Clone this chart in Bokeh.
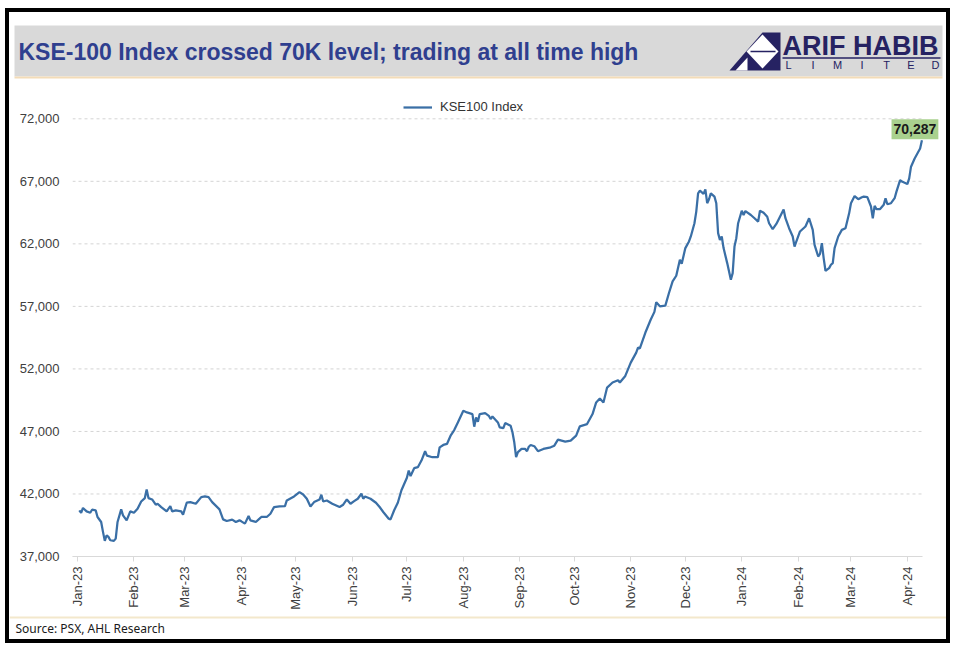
import numpy as np
import pandas as pd
from bokeh.plotting import figure
from bokeh.layouts import column
from bokeh.models import (Range1d, FixedTicker, MonthsTicker, DatetimeTickFormatter,
                          NumeralTickFormatter, Legend, LegendItem, Label, ColumnDataSource)
from bokeh.core.properties import value
from bokeh.embed import file_html
from bokeh.resources import INLINE

# ---------------- data ----------------
title_text = "KSE-100 Index crossed 70K level; trading at all time high"
series_name = "KSE100 Index"
source_text = "Source: PSX, AHL Research"
logo_name = "ARIF HABIB"
logo_sub = list("LIMITED")
y_ticks = [37000, 42000, 47000, 52000, 57000, 62000, 67000, 72000]

dates = [
    "2023-01-02", "2023-01-03", "2023-01-04", "2023-01-06", "2023-01-08", "2023-01-09", "2023-01-11",
    "2023-01-12", "2023-01-14", "2023-01-15", "2023-01-16", "2023-01-17", "2023-01-18", "2023-01-19",
    "2023-01-21", "2023-01-22", "2023-01-23", "2023-01-25", "2023-01-26", "2023-01-28", "2023-01-30",
    "2023-02-01", "2023-02-03", "2023-02-05", "2023-02-07", "2023-02-08", "2023-02-09", "2023-02-11",
    "2023-02-13", "2023-02-14", "2023-02-16", "2023-02-19", "2023-02-21", "2023-02-22", "2023-02-24",
    "2023-02-27", "2023-02-28", "2023-03-02", "2023-03-04", "2023-03-07", "2023-03-10", "2023-03-12",
    "2023-03-14", "2023-03-16", "2023-03-20", "2023-03-22", "2023-03-24", "2023-03-27", "2023-03-29",
    "2023-03-31", "2023-04-01", "2023-04-03", "2023-04-05", "2023-04-06", "2023-04-09", "2023-04-11",
    "2023-04-12", "2023-04-15", "2023-04-17", "2023-04-19", "2023-04-22", "2023-04-25", "2023-04-26",
    "2023-04-30", "2023-05-03", "2023-05-05", "2023-05-07", "2023-05-09", "2023-05-11", "2023-05-14",
    "2023-05-15", "2023-05-16", "2023-05-18", "2023-05-21", "2023-05-25", "2023-05-27", "2023-05-29",
    "2023-05-31", "2023-06-02", "2023-06-04", "2023-06-06", "2023-06-07", "2023-06-08", "2023-06-11",
    "2023-06-14", "2023-06-16", "2023-06-18", "2023-06-21", "2023-06-22", "2023-06-24", "2023-06-26",
    "2023-06-28", "2023-07-01", "2023-07-02", "2023-07-03", "2023-07-05", "2023-07-07", "2023-07-09",
    "2023-07-11", "2023-07-12", "2023-07-15", "2023-07-18", "2023-07-19", "2023-07-21", "2023-07-23",
    "2023-07-25", "2023-07-27", "2023-07-29", "2023-08-01", "2023-08-03", "2023-08-06", "2023-08-07",
    "2023-08-08", "2023-08-09", "2023-08-10", "2023-08-13", "2023-08-15", "2023-08-16", "2023-08-17",
    "2023-08-20", "2023-08-21", "2023-08-23", "2023-08-24", "2023-08-27", "2023-08-28", "2023-08-29",
    "2023-08-30", "2023-08-31", "2023-09-02", "2023-09-04", "2023-09-05", "2023-09-06", "2023-09-07",
    "2023-09-09", "2023-09-11", "2023-09-14", "2023-09-18", "2023-09-20", "2023-09-22", "2023-09-24",
    "2023-09-26", "2023-09-29", "2023-10-02", "2023-10-04", "2023-10-08", "2023-10-11", "2023-10-13",
    "2023-10-15", "2023-10-17", "2023-10-19", "2023-10-22", "2023-10-25", "2023-10-26", "2023-10-29",
    "2023-11-01", "2023-11-04", "2023-11-05", "2023-11-06", "2023-11-09", "2023-11-12", "2023-11-14",
    "2023-11-15", "2023-11-17", "2023-11-20", "2023-11-22", "2023-11-24", "2023-11-26", "2023-11-28",
    "2023-11-29", "2023-12-01", "2023-12-03", "2023-12-04", "2023-12-06", "2023-12-07", "2023-12-08",
    "2023-12-09", "2023-12-11", "2023-12-12", "2023-12-13", "2023-12-14", "2023-12-15", "2023-12-17",
    "2023-12-18", "2023-12-19", "2023-12-20", "2023-12-21", "2023-12-22", "2023-12-24", "2023-12-26",
    "2023-12-27", "2023-12-28", "2023-12-29", "2023-12-30", "2024-01-01", "2024-01-02", "2024-01-03",
    "2024-01-06", "2024-01-08", "2024-01-10", "2024-01-11", "2024-01-13", "2024-01-15", "2024-01-16",
    "2024-01-18", "2024-01-20", "2024-01-22", "2024-01-24", "2024-01-25", "2024-01-27", "2024-01-29",
    "2024-01-30", "2024-01-31", "2024-02-02", "2024-02-05", "2024-02-07", "2024-02-09", "2024-02-10",
    "2024-02-12", "2024-02-13", "2024-02-14", "2024-02-15", "2024-02-16", "2024-02-18", "2024-02-19",
    "2024-02-20", "2024-02-21", "2024-02-23", "2024-02-25", "2024-02-27", "2024-02-29", "2024-03-01",
    "2024-03-03", "2024-03-05", "2024-03-07", "2024-03-08", "2024-03-10", "2024-03-12", "2024-03-13",
    "2024-03-14", "2024-03-15", "2024-03-17", "2024-03-19", "2024-03-20", "2024-03-21", "2024-03-23",
    "2024-03-25", "2024-03-26", "2024-03-28", "2024-03-29", "2024-04-01", "2024-04-02", "2024-04-03",
    "2024-04-05", "2024-04-08", "2024-04-09",
]

kse100 = [
    40690, 40480, 40880, 40610, 40500, 40740, 40690,
    40160, 39760, 38970, 38250, 38700, 38570, 38300,
    38250, 38430, 39760, 40770, 40290, 39890, 40610,
    40500, 40820, 41400, 41670, 42360, 41670, 41560,
    41140, 41220, 40950, 40610, 41035, 40610, 40690,
    40610, 40340, 41300, 41350, 41220, 41750, 41800,
    41750, 41350, 40770, 39970, 39840, 39950, 39760,
    39890, 39810, 39630, 40240, 39890, 39760, 40025,
    40160, 40160, 40420, 40950, 41000, 41035, 41480,
    41800, 42150, 41960, 41620, 41000, 41350, 41560,
    41940, 41400, 41480, 41220, 40960, 41140, 41560,
    41220, 41430, 41620, 42020, 41620, 41800, 41620,
    41300, 40960, 40560, 40025, 39970, 40700, 41300,
    42300, 43300, 43870, 43430, 44060, 44140, 44670,
    45415, 45070, 44940, 44940, 45730, 45920, 46000,
    46660, 47110, 47720, 48650, 48520, 48390, 47380,
    48120, 47780, 48390, 48460, 48250, 47990, 48200,
    47720, 47330, 47270, 47670, 47450, 46930, 46130,
    44940, 45340, 45600, 45600, 45420, 45780, 45920,
    45820, 45420, 45600, 45730, 45860, 46340, 46260,
    46180, 46260, 46660, 47410, 47590, 48390, 49320,
    49630, 49320, 50510, 50910, 51090, 50910, 51440,
    52500, 53300, 53700, 53640, 54890, 55950, 56560,
    57330, 57010, 57060, 58070, 59000, 59450, 60730,
    60410, 61660, 62190, 62590, 63650, 64580, 66040,
    66250, 65990, 66360, 65250, 65570, 66040, 65780,
    65250, 62860, 62320, 62590, 61660, 60460, 59130,
    59660, 61780, 62450, 63650, 64650, 64310, 64620,
    64310, 64050, 63780, 64650, 64490, 64170, 63650,
    63170, 63590, 64170, 64750, 64050, 63250, 62590,
    61780, 62190, 62990, 63390, 64050, 63120, 61920,
    60990, 61200, 62060, 60860, 59850, 60060, 60330,
    60460, 61660, 62590, 63120, 63250, 64440, 65250,
    65820, 65570, 65730, 65780, 65730, 64990, 64050,
    65040, 64780, 64780, 65120, 65650, 65170, 65250,
    65650, 66180, 67100, 66980, 66780, 67230, 68170,
    68820, 69620, 70287,
]

# ---------------- styles ----------------
W = 937
NAVY = "#262262"
TITLE_BLUE = "#2f3f8f"
LINE_BLUE = "#3a6fa6"
FONT = "Liberation Sans"

# ---------------- header ----------------
hdr = figure(width=W, height=68, x_range=Range1d(0, W), y_range=Range1d(68, 0),
             output_backend="svg", toolbar_location=None, min_border=0,
             min_border_left=0, min_border_right=0, min_border_top=0, min_border_bottom=0,
             x_axis_location=None, y_axis_location=None)
hdr.frame_align = False
hdr.grid.visible = False
hdr.outline_line_color = None
hdr.background_fill_color = "white"
hdr.border_fill_color = "white"
hdr.quad(left=5, right=933, top=13, bottom=64, fill_color="#d9d9d9", line_color=None)
hdr.quad(left=5, right=933, top=64, bottom=66, fill_color="#f3dcb8", line_color=None)
hdr.text(x=[9], y=[39], text=[title_text], text_font=value(FONT),
         text_font_style="bold", text_font_size="23px", text_color=TITLE_BLUE,
         text_baseline="middle")
# logo icon
hdr.patch(x=[720, 753, 771, 771], y=[58, 20, 20, 58], fill_color=NAVY, line_color=None)
hdr.patch(x=[753, 737, 753, 769], y=[22, 39, 56, 39], fill_color="white", line_color=None)
hdr.patch(x=[726, 738, 738], y=[58, 45, 58], fill_color="white", line_color=None)
hdr.segment(x0=[741], y0=[39], x1=[766], y1=[39], line_color=NAVY, line_width=1.5)
hdr.text(x=[773], y=[33], text=[logo_name], text_font=value(FONT),
         text_font_style="bold", text_font_size="27px", text_color=NAVY,
         text_baseline="middle")
hdr.segment(x0=[773], y0=[45.5], x1=[931], y1=[45.5], line_color=NAVY, line_width=1.5)
hdr.text(x=list(np.linspace(779, 926, len(logo_sub))), y=[52.5] * len(logo_sub), text=logo_sub,
         text_font=value(FONT), text_font_size="11px", text_color=NAVY,
         text_align="center", text_baseline="middle")

# ---------------- main chart ----------------
x = pd.to_datetime(dates)
src = ColumnDataSource(dict(x=x, y=kse100))
jan1 = pd.Timestamp("2023-01-01")
x_start = jan1 - pd.Timedelta(days=2.75)
axis_end = x[-1] + pd.Timedelta(hours=8)
x_end = jan1 + pd.Timedelta(days=475.3)

p = figure(width=W, height=532, x_axis_type="datetime", output_backend="svg",
           toolbar_location=None, x_range=Range1d(x_start, x_end),
           y_range=Range1d(37000, 73863),
           min_border_left=63, min_border_right=4, min_border_top=15, min_border_bottom=54)
p.frame_align = False
p.outline_line_color = None
p.background_fill_color = "white"
p.border_fill_color = "white"
p.xgrid.visible = False
p.ygrid.visible = False
# horizontal dashed gridlines at the y ticks, ending where the x axis ends
p.segment(x0=[x_start] * len(y_ticks), x1=[axis_end] * len(y_ticks), y0=y_ticks, y1=y_ticks,
          line_color="#d4d4d4", line_dash="3 3", line_width=1)

ya = p.yaxis[0]
ya.ticker = FixedTicker(ticks=y_ticks)
ya.formatter = NumeralTickFormatter(format="0,0")
ya.axis_line_color = None
ya.major_tick_line_color = None
ya.minor_tick_line_color = None
ya.major_label_standoff = 7
ya.major_label_text_font = FONT
ya.major_label_text_font_size = "13px"
ya.major_label_text_color = "#404040"

xa = p.xaxis[0]
xa.ticker = MonthsTicker(months=list(range(12)))
fmt = "%b-%y"
xa.formatter = DatetimeTickFormatter(months=fmt, days=fmt, years=fmt, hours=fmt)
xa.bounds = (x_start, axis_end)
xa.major_label_orientation = np.pi / 2
xa.axis_line_color = "#d9d9d9"
xa.major_tick_line_color = "#d9d9d9"
xa.major_tick_out = 5
xa.major_tick_in = 0
xa.minor_tick_line_color = None
xa.major_label_standoff = 5
xa.major_label_text_font = FONT
xa.major_label_text_font_size = "13px"
xa.major_label_text_color = "#404040"

r = p.line("x", "y", source=src, line_color=LINE_BLUE, line_width=2.25)

legend = Legend(items=[LegendItem(label=series_name, renderers=[r])], location=(331, 442),
                orientation="horizontal", padding=0, margin=0, border_line_color=None,
                background_fill_alpha=0, label_text_font=FONT,
                label_text_font_size="13px", label_text_color="#333333",
                glyph_width=29, glyph_height=14, label_height=14, label_standoff=8)
p.add_layout(legend)

p.add_layout(Label(x=x[-1], y=kse100[-1], text=f"{kse100[-1]:,}", x_offset=-7, y_offset=11,
                   text_align="center", text_baseline="middle", text_font=FONT,
                   text_font_size="14px", text_font_style="bold", text_color="#1a1a1a",
                   background_fill_color="#a9d18e", padding=(2, 5)))

# ---------------- footer ----------------
ftr = figure(width=W, height=27, x_range=Range1d(0, W), y_range=Range1d(27, 0),
             output_backend="svg", toolbar_location=None, min_border=0,
             min_border_left=0, min_border_right=0, min_border_top=0, min_border_bottom=0,
             x_axis_location=None, y_axis_location=None)
ftr.frame_align = False
ftr.grid.visible = False
ftr.outline_line_color = None
ftr.border_fill_color = "white"
ftr.quad(left=0, right=W, top=4, bottom=6, fill_color="#f3e8cc", line_color=None)
ftr.text(x=[6], y=[16], text=[source_text], text_font=value("Noto Sans"),
         text_font_size="12px", text_color="#1a1a1a", text_baseline="middle")

layout = column(hdr, p, ftr, spacing=0,
                styles={"border": "4px solid black", "margin-left": "5px", "margin-top": "8px"})

open("out.html", "w").write(file_html(layout, INLINE))
